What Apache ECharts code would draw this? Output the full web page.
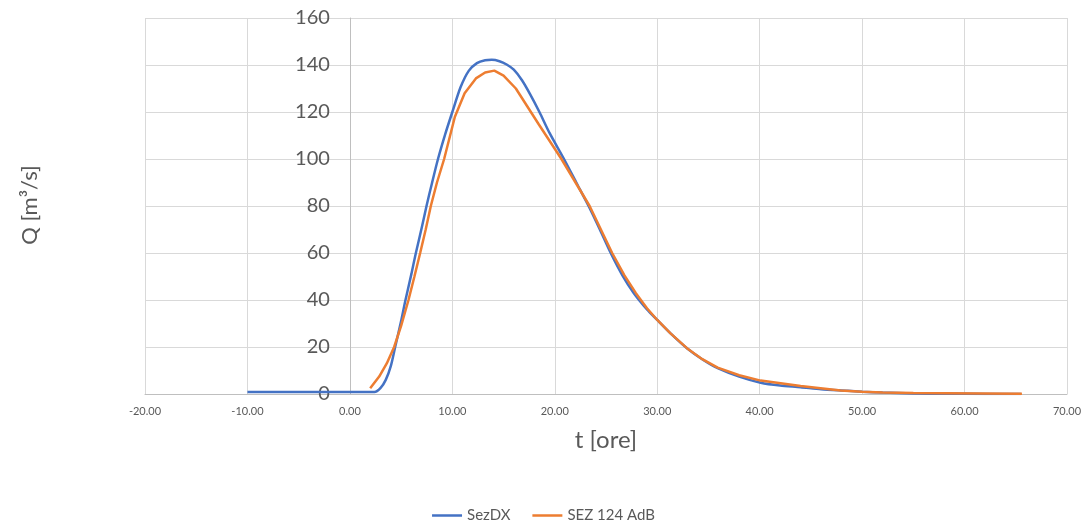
<!DOCTYPE html>
<html>
<head>
<meta charset="utf-8">
<script src="https://cdn.jsdelivr.net/npm/echarts@6/dist/echarts.min.js"></script>
<style>
  html, body { margin: 0; padding: 0; background: #fff; }
  #chart { width: 1087px; height: 523px; }
</style>
</head>
<body>
<div id="chart"></div>
<script>
// SezDX: [t (ore), Q (m3/s)]
var sezdxData = [
    [-10, 0.8], [2.4, 0.8], [3.0, 2.6], [3.5, 6], [4.0, 12], [4.42, 20],
    [5.0, 31], [5.4, 39.5], [6.0, 51], [6.44, 60], [7.0, 70.5], [7.48, 80],
    [8.0, 89.5], [8.6, 100], [9.3, 110.5], [10.0, 120], [10.8, 130.5],
    [11.6, 137.5], [12.4, 140.8], [13.2, 142], [13.85, 142.2], [14.6, 141.6],
    [15.3, 140.2], [16.0, 138], [16.8, 133.5], [17.6, 127.5], [18.5, 120],
    [19.5, 111], [20.9, 100], [22.1, 90], [23.3, 80], [24.4, 70],
    [25.46, 60], [26.6, 50.5], [27.7, 43], [29.0, 36], [30.0, 31.5],
    [31.3, 25.8], [32.9, 19.5], [34.5, 14.5], [35.9, 11], [38.0, 7.4],
    [40.1, 4.8], [42.0, 3.6], [44.0, 2.9], [46.0, 2.0], [48.6, 1.4],
    [50.0, 1.0], [52.0, 0.6], [55.0, 0.2], [58.0, 0.1], [62.0, 0.05], [65.5, 0]
];
// SEZ 124 AdB: [t (ore), Q (m3/s)]
var sez124Data = [
    [1.98, 2.4], [2.86, 7.4], [3.6, 13], [4.32, 20], [5.0, 29], [5.72, 40],
    [6.3, 50], [6.86, 60], [7.4, 70], [7.9, 80], [8.5, 90], [9.2, 100],
    [10.25, 118], [11.2, 128], [12.3, 134.3], [13.2, 136.8], [14.1, 137.6],
    [15.0, 135.5], [16.2, 130], [18.4, 115], [20.65, 100], [23.4, 80],
    [25.6, 60], [26.8, 50.5], [27.9, 43], [29.0, 36.5], [30.0, 31.5],
    [31.3, 25.8], [32.9, 19.5], [34.4, 14.8], [35.9, 11.2], [38.0, 8],
    [40.1, 5.7], [44.0, 3.4], [47.9, 1.5], [50.0, 1.0], [52.0, 0.6],
    [55.0, 0.4], [58.0, 0.3], [65.6, 0.1]
];
var seriesNames = ["SezDX", "SEZ 124 AdB"];

var chartobj = echarts.init(document.getElementById("chart"));
var fontName = "Lato, 'Open Sans', sans-serif";
// y axis sits at t = 0: grid is 922px wide for 90 h, so shift it 20 h to the right
var yShift = 922 / 90 * 20;
var option = {
    animation: false,
    color: ["#4472C4", "#ED7D31"],
    grid: { left: 145, right: 20, top: 18, bottom: 129, outerBoundsMode: "none", containLabel: false },
    legend: {
        top: 503,
        left: "center",
        icon: "rect",
        itemWidth: 30,
        itemHeight: 2.5,
        itemGap: 22,
        textStyle: { color: "#595959", fontSize: 15, fontFamily: fontName },
        data: seriesNames
    },
    graphic: [
        {
            type: "text",
            x: 30,
            y: 205,
            rotation: Math.PI / 2,
            style: {
                text: "Q [m³/s]",
                fill: "#595959",
                font: "22px " + fontName,
                align: "center",
                verticalAlign: "middle"
            }
        }
    ],
    xAxis: {
        type: "value",
        min: -20,
        max: 70,
        interval: 10,
        name: "t [ore]",
        nameLocation: "middle",
        nameGap: 34,
        nameTextStyle: { color: "#595959", fontSize: 24, fontFamily: fontName },
        axisLine: { show: true, onZero: false, lineStyle: { color: "#bfbfbf", width: 1 } },
        axisTick: { show: false },
        axisLabel: {
            color: "#595959", fontSize: 11, fontFamily: fontName, margin: 12,
            formatter: function (v) { return v.toFixed(2); }
        },
        splitLine: { show: true, lineStyle: { color: "#d9d9d9", width: 1 } }
    },
    yAxis: {
        type: "value",
        min: 0,
        max: 160,
        interval: 20,
        offset: -yShift,
        axisLine: { show: true, onZero: false, lineStyle: { color: "#bfbfbf", width: 1 } },
        axisTick: { show: false },
        axisLabel: { color: "#595959", fontSize: 20, fontFamily: fontName, margin: 20 },
        splitLine: { show: true, lineStyle: { color: "#d9d9d9", width: 1 } }
    },
    series: [
        {
            name: seriesNames[0],
            type: "line",
            data: sezdxData,
            symbol: "none",
            smooth: 0.25,
            lineStyle: { width: 2.5 }
        },
        {
            name: seriesNames[1],
            type: "line",
            data: sez124Data,
            symbol: "none",
            lineStyle: { width: 2.5 }
        }
    ]
};
chartobj.setOption(option);
</script>
</body>
</html>
